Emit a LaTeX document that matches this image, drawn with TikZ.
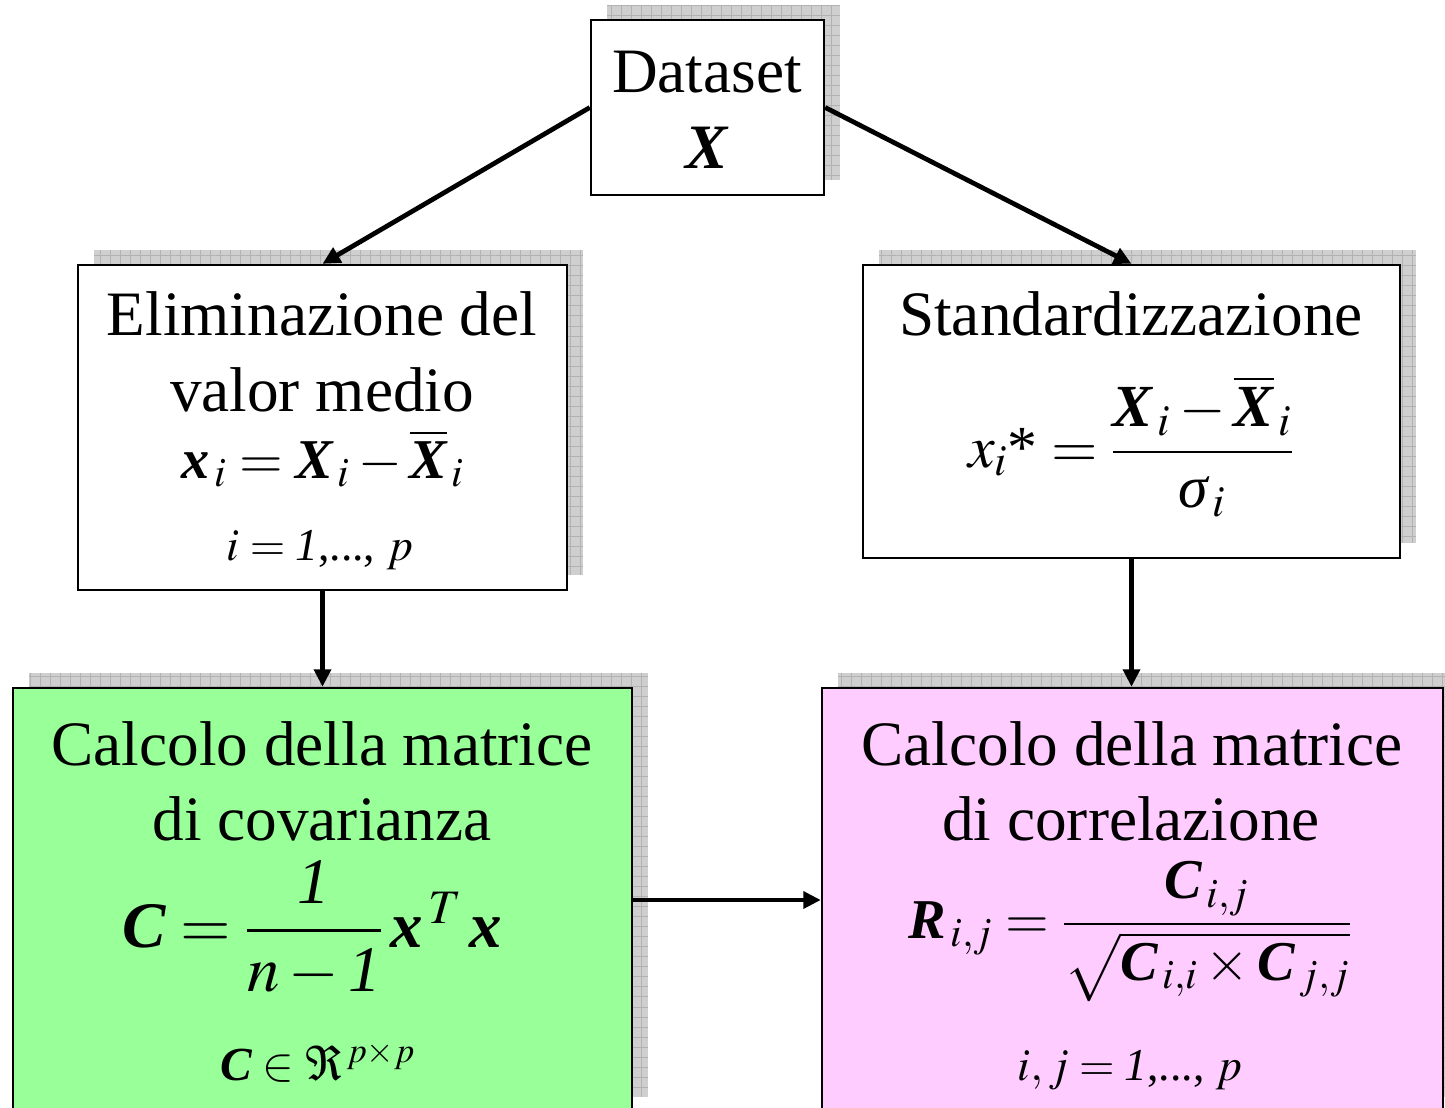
\documentclass[tikz,border=0pt]{standalone}
\usepackage{amsmath}
\usepackage{mathptmx}
\usepackage{fontspec}
\setmainfont{Liberation Serif}
\usepackage{tikz}
\usetikzlibrary{arrows.meta,shadows,patterns.meta}

\definecolor{covgreen}{RGB}{153,255,153}
\definecolor{corrpink}{RGB}{255,204,255}
\newcommand{\bv}[1]{\text{\normalfont\bfseries\itshape #1}}
\newcommand{\iv}[1]{\text{\normalfont\itshape #1}}

\begin{document}
\begin{tikzpicture}[x=0.02cm, y=-0.02cm,
    box/.style={rectangle, draw=black, line width=1.4pt, fill=white, inner sep=0pt,
      drop shadow={shadow xshift=0.32cm, shadow yshift=0.3cm, fill=black!19, opacity=1,
        postaction={pattern={Hatch[distance=5.7pt, angle=0, line width=0.4pt]}, pattern color=black!30}}},
    txt/.style={anchor=base, inner sep=0pt, font=\fontsize{36}{43}\selectfont},
    arr/.style={-{Triangle[length=10pt, width=9.5pt]}, line width=2.7pt}]
    \useasboundingbox (0,0) rectangle (1445,1107);

    % boxes
    \node[box, minimum width=4.66cm, minimum height=3.5cm] (data) at (707.5,107.5) {};
    \node[box, minimum width=9.78cm, minimum height=6.5cm] (elim) at (322.5,427.5) {};
    \node[box, minimum width=10.74cm, minimum height=5.86cm] (stand) at (1131.5,411.5) {};
    \node[box, fill=covgreen, minimum width=12.38cm, minimum height=8.48cm] (cov) at (322.5,900) {};
    \node[box, fill=corrpink, minimum width=12.42cm, minimum height=8.48cm] (corr) at (1132.5,900) {};

    \draw[arr] (data.west) -- (elim.north);
    \draw[arr] (data.east) -- (stand.north);
    \draw[arr] (elim.south) -- (cov.north);
    \draw[arr] (stand.south) -- (stand.south |- corr.north);
    \draw[arr] (cov.east) -- (corr.west);

    % texts
    \node[txt] (dataT) at (707,92) {Dataset};
    \node[txt] (dataX) at (707,168) {$\bv{X}$};

    \node[txt] (elimT1) at (322,335) {Eliminazione del};
    \node[txt] (elimT2) at (322,411) {valor medio};
    \node[txt, font=\fontsize{32}{38}\selectfont] (elimF) at (323,478) {$\bv{x}_{\,i} = \bv{X}_{\,i} - \overline{\bv{X}}_{\,i}$};
    \node[txt, font=\fontsize{26}{31}\selectfont] (elimI) at (320,560) {$i = \iv{1}\text{,...,}\ p$};

    \node[txt] (standT) at (1131,335) {Standardizzazione};
    \node[txt, font=\fontsize{34}{40}\selectfont] (standF) at (1131,467) {$x_i\text{*} = \dfrac{\bv{X}_{\,i} - \overline{\bv{X}}_{\,i}}{\iv{σ}_{\,i}}$};

    \node[txt] (covT1) at (322,765) {Calcolo della matrice};
    \node[txt] (covT2) at (322,840) {di covarianza};
    \node[txt, font=\fontsize{37}{44}\selectfont] (covF) at (312,947) {$\bv{C} = \dfrac{\iv{1}}{n-\iv{1}}\,\bv{x}^{\,T}\,\bv{x}$};
    \node[txt, font=\fontsize{27}{32}\selectfont] (covR) at (318,1080) {$\bv{C}\in\Re^{\,p\times p}$};

    \node[txt] (corrT1) at (1132,765) {Calcolo della matrice};
    \node[txt] (corrT2) at (1131,840) {di correlazione};
    \node[txt, font=\fontsize{32}{38}\selectfont] (corrF) at (1130,938) {$\bv{R}_{\,i,j} = \dfrac{\bv{C}_{\,i,j}}{\sqrt{\bv{C}_{\,i,i}\times\bv{C}_{\,j,j}}}$};
    \node[txt, font=\fontsize{26}{31}\selectfont] (corrI) at (1130,1080) {$i, j = \iv{1}\text{,...,}\ p$};
\end{tikzpicture}
\end{document}
